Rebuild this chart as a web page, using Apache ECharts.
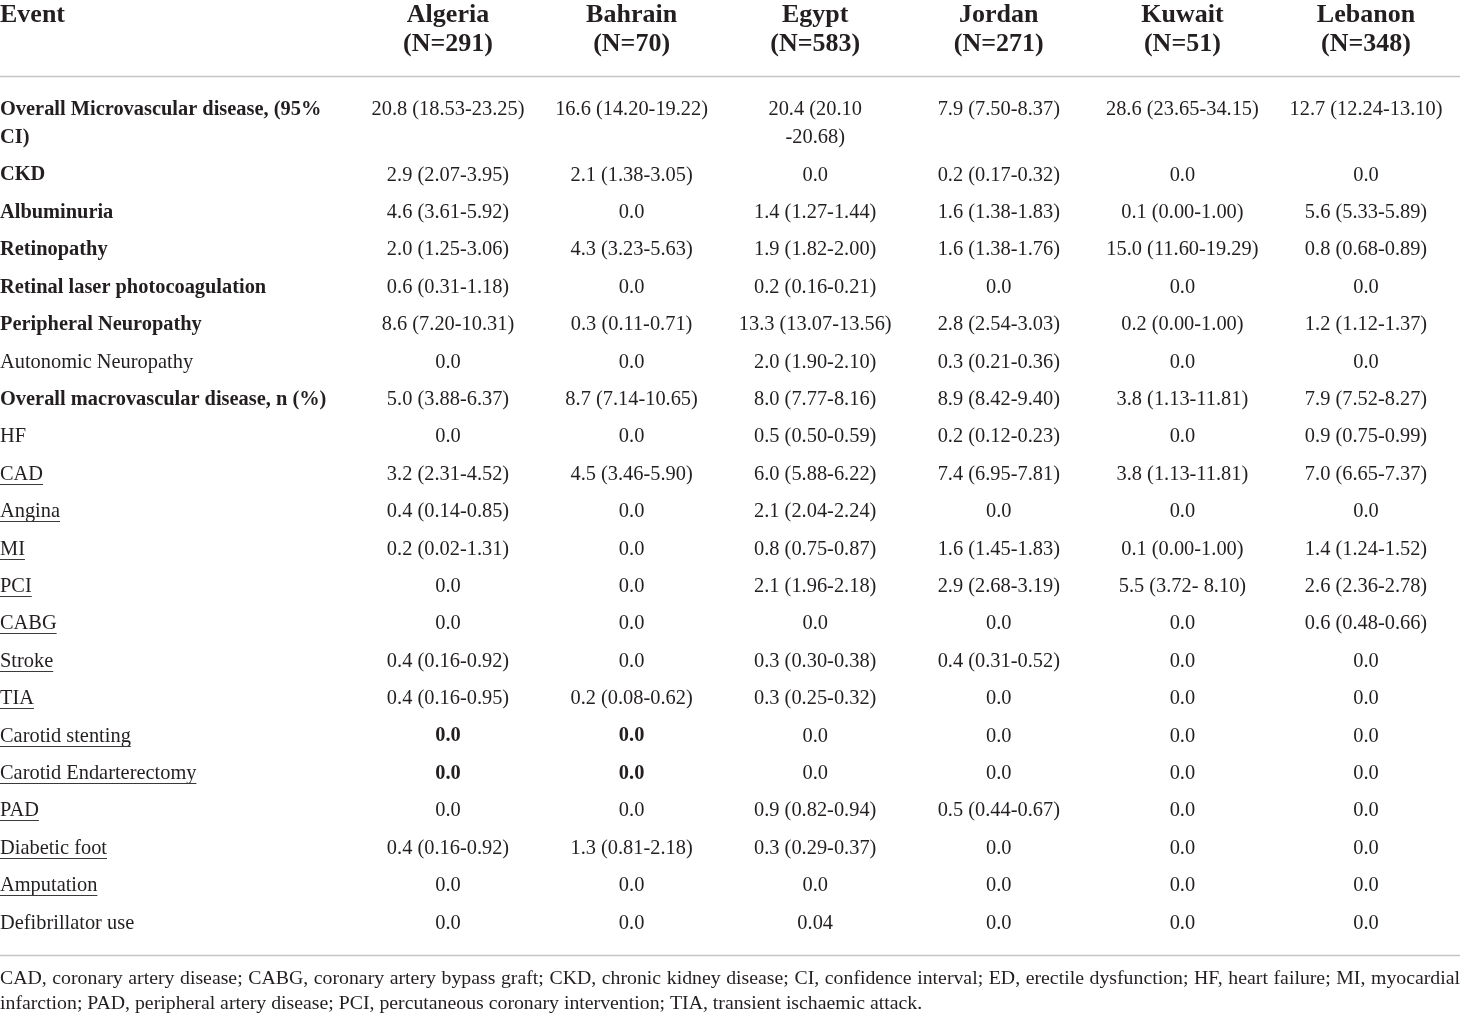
<!DOCTYPE html>
<html>
<head>
<meta charset="utf-8">
<script src="https://cdn.jsdelivr.net/npm/echarts@6/dist/echarts.min.js"></script>
<style>
  html, body { margin: 0; padding: 0; background: #fff; }
  #table-chart { width: 1460px; height: 1015px; }
</style>
</head>
<body>
<div id="table-chart"></div>
<script>
// table contents
var countries = ['Algeria', 'Bahrain', 'Egypt', 'Jordan', 'Kuwait', 'Lebanon'];
var sampleSizes = [291, 70, 583, 271, 51, 348];

var events = [
    'Overall Microvascular disease, (95%\nCI)', 'CKD', 'Albuminuria', 'Retinopathy',
    'Retinal laser photocoagulation', 'Peripheral Neuropathy', 'Autonomic Neuropathy',
    'Overall macrovascular disease, n (%)', 'HF', 'CAD', 'Angina', 'MI', 'PCI', 'CABG',
    'Stroke', 'TIA', 'Carotid stenting', 'Carotid Endarterectomy', 'PAD', 'Diabetic foot',
    'Amputation', 'Defibrillator use'
];
// b = bold, n = normal, u = underlined
var eventStyle = ['b', 'b', 'b', 'b', 'b', 'b', 'n', 'b', 'n', 'u', 'u', 'u', 'u', 'u',
    'u', 'u', 'u', 'u', 'u', 'u', 'u', 'n'];

var algeria = ['20.8 (18.53-23.25)', '2.9 (2.07-3.95)', '4.6 (3.61-5.92)', '2.0 (1.25-3.06)',
    '0.6 (0.31-1.18)', '8.6 (7.20-10.31)', '0.0', '5.0 (3.88-6.37)', '0.0', '3.2 (2.31-4.52)',
    '0.4 (0.14-0.85)', '0.2 (0.02-1.31)', '0.0', '0.0', '0.4 (0.16-0.92)', '0.4 (0.16-0.95)',
    '0.0', '0.0', '0.0', '0.4 (0.16-0.92)', '0.0', '0.0'];
var bahrain = ['16.6 (14.20-19.22)', '2.1 (1.38-3.05)', '0.0', '4.3 (3.23-5.63)', '0.0',
    '0.3 (0.11-0.71)', '0.0', '8.7 (7.14-10.65)', '0.0', '4.5 (3.46-5.90)', '0.0', '0.0',
    '0.0', '0.0', '0.0', '0.2 (0.08-0.62)', '0.0', '0.0', '0.0', '1.3 (0.81-2.18)', '0.0', '0.0'];
var egypt = ['20.4 (20.10\n-20.68)', '0.0', '1.4 (1.27-1.44)', '1.9 (1.82-2.00)',
    '0.2 (0.16-0.21)', '13.3 (13.07-13.56)', '2.0 (1.90-2.10)', '8.0 (7.77-8.16)',
    '0.5 (0.50-0.59)', '6.0 (5.88-6.22)', '2.1 (2.04-2.24)', '0.8 (0.75-0.87)',
    '2.1 (1.96-2.18)', '0.0', '0.3 (0.30-0.38)', '0.3 (0.25-0.32)', '0.0', '0.0',
    '0.9 (0.82-0.94)', '0.3 (0.29-0.37)', '0.0', '0.04'];
var jordan = ['7.9 (7.50-8.37)', '0.2 (0.17-0.32)', '1.6 (1.38-1.83)', '1.6 (1.38-1.76)', '0.0',
    '2.8 (2.54-3.03)', '0.3 (0.21-0.36)', '8.9 (8.42-9.40)', '0.2 (0.12-0.23)', '7.4 (6.95-7.81)',
    '0.0', '1.6 (1.45-1.83)', '2.9 (2.68-3.19)', '0.0', '0.4 (0.31-0.52)', '0.0', '0.0', '0.0',
    '0.5 (0.44-0.67)', '0.0', '0.0', '0.0'];
var kuwait = ['28.6 (23.65-34.15)', '0.0', '0.1 (0.00-1.00)', '15.0 (11.60-19.29)', '0.0',
    '0.2 (0.00-1.00)', '0.0', '3.8 (1.13-11.81)', '0.0', '3.8 (1.13-11.81)', '0.0',
    '0.1 (0.00-1.00)', '5.5 (3.72- 8.10)', '0.0', '0.0', '0.0', '0.0', '0.0', '0.0', '0.0',
    '0.0', '0.0'];
var lebanon = ['12.7 (12.24-13.10)', '0.0', '5.6 (5.33-5.89)', '0.8 (0.68-0.89)', '0.0',
    '1.2 (1.12-1.37)', '0.0', '7.9 (7.52-8.27)', '0.9 (0.75-0.99)', '7.0 (6.65-7.37)', '0.0',
    '1.4 (1.24-1.52)', '2.6 (2.36-2.78)', '0.6 (0.48-0.66)', '0.0', '0.0', '0.0', '0.0', '0.0',
    '0.0', '0.0', '0.0'];
var countryValues = [algeria, bahrain, egypt, jordan, kuwait, lebanon];

// [row, country column] cells printed in bold
var boldCells = [[16, 1], [16, 2], [17, 1], [17, 2]];

var footnote = [
    'CAD, coronary artery disease; CABG, coronary artery bypass graft; CKD, chronic kidney disease; CI, confidence interval; ED, erectile dysfunction; HF, heart failure; MI, myocardial',
    'infarction; PAD, peripheral artery disease; PCI, percutaneous coronary intervention; TIA, transient ischaemic attack.'
];

// layout
var W = 1460;
var FONT = "'Liberation Serif', 'DejaVu Serif', serif";
var INK = '#231f20';
var BODY_SIZE = 20.4, HEADER_SIZE = 26, FOOT_SIZE = 19.8;
var LINE_H = 28;        // line pitch inside a cell
var ROW_PAD = 9.4;      // extra space per row
var BODY_TOP = 95.8;
var HEADER_TOP = -95.5; // header text top, relative to body top
var HEADER_LINE_H = 29;
var colStep = 183.6, firstCenter = 448;

function lineCount(s) { return s.split('\n').length; }

// row tops (in px units along the y axis)
var rowTops = [];
var acc = 0;
for (var r = 0; r < events.length; r++) {
    var n = lineCount(events[r]);
    countryValues.forEach(function (c) { n = Math.max(n, lineCount(c[r])); });
    rowTops.push(acc);
    acc += n * LINE_H + ROW_PAD;
}
var bodyHeight = acc;

var xMin = 1 - firstCenter / colStep;
var xMax = 1 + (W - firstCenter) / colStep;

// cells: [x, y]
var cells = [];
var cellInfo = [];
cells.push([xMin, HEADER_TOP]);
cellInfo.push({text: 'Event', header: true, left: true});
countries.forEach(function (c, i) {
    cells.push([i + 1, HEADER_TOP]);
    cellInfo.push({text: c + '\n(N=' + sampleSizes[i] + ')', header: true});
});
events.forEach(function (ev, r) {
    cells.push([xMin, rowTops[r]]);
    cellInfo.push({text: ev, left: true, bold: eventStyle[r] === 'b', underline: eventStyle[r] === 'u'});
    countryValues.forEach(function (vals, ci) {
        var isBold = boldCells.some(function (b) { return b[0] === r && b[1] === ci + 1; });
        cells.push([ci + 1, rowTops[r]]);
        cellInfo.push({text: vals[r], bold: isBold});
    });
});

var measureCtx = document.createElement('canvas').getContext('2d');
function textWidth(s, size, weight) {
    measureCtx.font = (weight || 'normal') + ' ' + size + 'px ' + FONT;
    return measureCtx.measureText(s).width;
}

function renderCell(params, api) {
    var info = cellInfo[params.dataIndex];
    var pt = api.coord([api.value(0), api.value(1)]);
    var size = info.header ? HEADER_SIZE : BODY_SIZE;
    var lh = info.header ? HEADER_LINE_H : LINE_H;
    var weight = (info.header || info.bold) ? 'bold' : 'normal';
    var children = [{
        type: 'text',
        x: pt[0],
        y: pt[1],
        style: {
            text: info.text,
            fill: INK,
            fontFamily: FONT,
            fontSize: size,
            fontWeight: weight,
            lineHeight: lh,
            align: info.left ? 'left' : 'center',
            verticalAlign: 'top'
        }
    }];
    if (info.underline) {
        var w = textWidth(info.text, size, weight);
        var uy = Math.round(pt[1] + lh / 2 + 9.5) + 0.5;
        children.push({
            type: 'line',
            shape: {x1: pt[0], y1: uy, x2: pt[0] + w, y2: uy},
            style: {stroke: '#3a3a3a', lineWidth: 1}
        });
    }
    return {type: 'group', children: children};
}

// footnote, first line justified across the full width
var footChildren = [];
var words = footnote[0].split(' ');
var wordW = words.map(function (w) { return textWidth(w, FOOT_SIZE); });
var gap = (W - wordW.reduce(function (a, b) { return a + b; }, 0)) / (words.length - 1);
var fx = 0;
words.forEach(function (w, i) {
    footChildren.push({
        type: 'text', x: fx, y: 979,
        style: {text: w, fill: INK, fontFamily: FONT, fontSize: FOOT_SIZE, verticalAlign: 'middle'}
    });
    fx += wordW[i] + gap;
});
footChildren.push({
    type: 'text', x: 0, y: 1004,
    style: {text: footnote[1], fill: INK, fontFamily: FONT, fontSize: FOOT_SIZE, verticalAlign: 'middle'}
});

var tableChart = echarts.init(document.getElementById('table-chart'));
tableChart.setOption({
    backgroundColor: '#ffffff',
    animation: false,
    grid: {left: 0, right: 0, top: BODY_TOP, height: bodyHeight},
    xAxis: {type: 'value', min: xMin, max: xMax, show: false},
    yAxis: {type: 'value', inverse: true, min: 0, max: bodyHeight, show: false},
    graphic: [
        {type: 'line', shape: {x1: 0, y1: 76.5, x2: W, y2: 76.5}, style: {stroke: '#c4c4c4', lineWidth: 1.5}},
        {type: 'line', shape: {x1: 0, y1: 955.5, x2: W, y2: 955.5}, style: {stroke: '#c4c4c4', lineWidth: 1.5}},
        {type: 'group', children: footChildren}
    ],
    series: [{
        type: 'custom',
        coordinateSystem: 'cartesian2d',
        clip: false,
        silent: true,
        encode: {x: 0, y: 1},
        renderItem: renderCell,
        data: cells
    }]
});
</script>
</body>
</html>
